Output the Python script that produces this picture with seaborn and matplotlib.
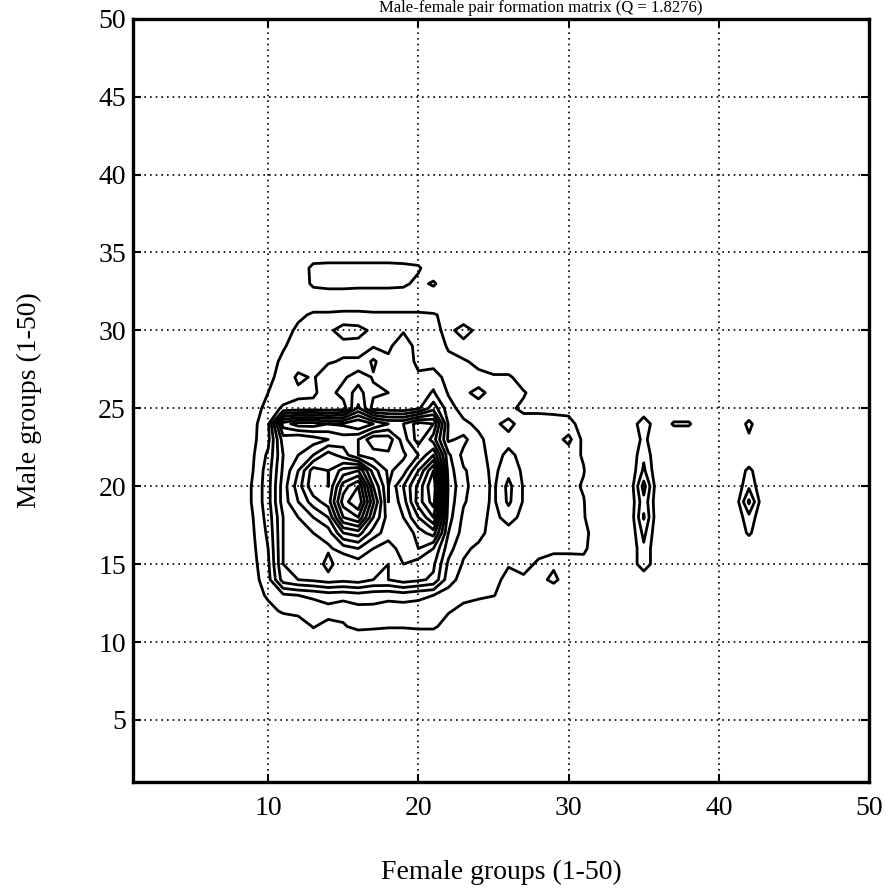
import numpy as np
import matplotlib
matplotlib.use("Agg")
import matplotlib.pyplot as plt
import seaborn as sns

# ---------------- data ----------------
female_groups = np.arange(1, 51)
male_groups = np.arange(1, 51)
title_text = "Male-female pair formation matrix (Q = 1.8276)"
x_label = "Female groups (1-50)"
y_label = "Male groups (1-50)"
x_ticks = [10, 20, 30, 40, 50]
y_ticks = [5, 10, 15, 20, 25, 30, 35, 40, 45, 50]
contour_levels = list(range(1, 16))

# main block: female groups 8..32 (columns), one list per male group (row)
block_female = list(range(8, 33))
male_34 = [0, 0, 0, 0, 0, 1.4, 1.5, 1.5, 1.5, 1.5, 1.5, 1.4, 1.2, 0, 0, 0, 0, 0, 0, 0, 0, 0, 0, 0, 0]
male_33 = [0, 0, 0, 0, 0, 1.3, 1.5, 1.5, 1.4, 1.4, 1.4, 1.3, 0.6, 1.2, 0, 0, 0, 0, 0, 0, 0, 0, 0, 0, 0]
male_32 = [0] * 25
male_31 = [0, 0, 0, 0, 0.7, 1.2, 1.2, 1.3, 1.3, 1.2, 1.2, 1.2, 1.2, 1.1, 0.7, 0, 0, 0, 0, 0, 0, 0, 0, 0, 0]
male_30 = [0, 0, 0, 0.4, 1.3, 1.6, 1.8, 2.4, 2.3, 1.8, 1.7, 1.9, 1.6, 1.4, 0.6, 1.6, 0.6, 0, 0, 0, 0, 0, 0, 0, 0]
male_29 = [0, 0, 0.3, 0.9, 1.4, 1.5, 1.6, 1.7, 1.7, 1.9, 1.8, 2.6, 1.6, 1.5, 0.9, 0.5, 0.4, 0, 0, 0, 0, 0, 0, 0, 0]
male_28 = [0, 0, 0.6, 1.2, 1.5, 1.7, 1.9, 2.1, 2.1, 3.2, 2.2, 2.7, 1.7, 1.5, 1.2, 1.1, 0.8, 0.5, 0, 0, 0, 0, 0, 0, 0]
male_27 = [0, 0, 0.8, 1.3, 2.2, 1.9, 2.6, 2.8, 3.6, 2.9, 2.4, 2.3, 2.2, 2.6, 1.5, 1.3, 1.2, 1.1, 1.2, 0.4, 0, 0, 0, 0, 0]
male_26 = [0, 0.3, 1.0, 1.3, 1.8, 1.8, 2.6, 3.4, 4.4, 3.2, 3.0, 2.6, 2.5, 3.1, 1.9, 1.7, 2.4, 1.5, 1.6, 1.1, 0.5, 0, 0, 0, 0]
male_25 = [0, 0.6, 1.3, 2.2, 2.3, 2.4, 2.3, 2.5, 5.2, 2.6, 2.4, 2.3, 2.8, 4.6, 2.4, 1.6, 1.4, 1.3, 1.2, 0.8, 0.8, 0.8, 0.7, 0, 0]
male_24 = [0, 0.7, 1.8, 7.5, 8.5, 8.5, 8.0, 8.2, 9.0, 8.0, 7.0, 7.0, 8.5, 8.0, 2.9, 2.2, 1.8, 1.7, 2.4, 1.4, 1.4, 1.3, 1.3, 0.6, 0]
male_23 = [0, 0.8, 1.7, 5.5, 5.0, 5.5, 6.0, 6.5, 6.0, 4.2, 4.4, 6.5, 8.5, 6.5, 2.8, 3.3, 2.2, 1.6, 1.6, 1.3, 1.4, 1.5, 2.3, 0.7, 0]
male_22 = [0, 0.9, 2.2, 5.0, 6.0, 7.0, 8.5, 7.5, 6.0, 5.5, 5.2, 5.8, 7.0, 9.0, 4.2, 2.7, 2.5, 1.5, 2.3, 1.6, 1.4, 1.6, 1.4, 0.9, 0]
male_21 = [0.2, 1.0, 2.5, 5.2, 7.0, 9.5, 9.0, 10.4, 11.0, 7.5, 5.8, 6.5, 9.0, 12.0, 4.5, 3.1, 2.6, 1.7, 2.7, 1.8, 1.5, 1.6, 1.3, 1.05, 0]
male_20 = [0.3, 1.1, 2.6, 5.5, 7.5, 9.8, 9.0, 12.5, 14.0, 9.0, 6.0, 8.0, 10.3, 13.0, 4.8, 3.2, 2.6, 1.8, 3.3, 1.9, 1.7, 1.5, 1.3, 0.9, 0]
male_19 = [0.3, 1.1, 2.6, 5.5, 7.0, 8.5, 9.5, 13.5, 15.0, 10.2, 6.0, 7.5, 10.5, 12.5, 4.6, 3.1, 2.5, 1.8, 3.2, 1.9, 1.6, 1.4, 1.2, 1.05, 0]
male_18 = [0.2, 1.0, 2.4, 5.0, 6.0, 7.0, 8.0, 12.0, 13.0, 9.0, 6.5, 7.0, 9.0, 11.0, 4.4, 2.8, 2.4, 1.7, 2.4, 1.7, 1.8, 1.5, 1.3, 1.1, 0]
male_17 = [0, 0.9, 2.2, 5.0, 5.5, 6.0, 6.5, 9.0, 9.5, 7.5, 6.5, 6.0, 7.5, 8.5, 4.0, 2.6, 2.3, 1.6, 1.6, 1.4, 1.5, 1.3, 1.4, 1.5, 0]
male_16 = [0, 0.8, 2.0, 5.0, 5.2, 5.5, 5.8, 6.5, 7.0, 6.0, 5.5, 6.5, 7.0, 6.0, 3.4, 2.2, 1.8, 1.5, 1.2, 1.3, 1.2, 1.1, 1.2, 1.3, 0]
male_15 = [0, 0.7, 1.8, 5.0, 5.5, 5.0, 6.5, 5.0, 5.5, 5.8, 5.0, 6.0, 5.5, 5.2, 2.8, 1.9, 1.6, 1.3, 1.05, 1.2, 0.9, 0.8, 0.6, 0.5, 0]
male_14 = [0, 0.6, 1.6, 4.5, 5.0, 5.2, 5.5, 5.3, 5.5, 5.0, 5.0, 5.5, 5.2, 4.8, 2.4, 1.6, 1.4, 1.2, 0.8, 0.9, 0.6, 1.3, 0.3, 0, 0]
male_13 = [0, 0.4, 1.2, 1.8, 2.0, 2.2, 2.5, 2.4, 2.6, 2.4, 2.3, 2.5, 2.2, 2.0, 1.6, 1.3, 1.2, 1.05, 0.5, 0.3, 0, 0, 0, 0, 0]
male_12 = [0, 0, 0.6, 1.2, 1.5, 1.4, 1.6, 1.3, 1.6, 1.7, 1.5, 1.4, 1.6, 1.3, 1.1, 0.7, 0.4, 0, 0, 0, 0, 0, 0, 0, 0]
male_11 = [0, 0, 0, 0, 0, 1.1, 0.5, 0.9, 1.3, 1.2, 1.1, 1.1, 1.2, 1.2, 0.5, 0, 0, 0, 0, 0, 0, 0, 0, 0, 0]

# isolated columns to the right
col35_male = [15, 16, 17, 18, 19, 20, 21, 22, 23, 24]
col35_vals = [1.8, 1.8, 2.3, 3.1, 2.7, 3.4, 2.2, 1.8, 1.3, 1.8]
col37_male = [24]
col37_vals = [1.15]
col38_male = [24]
col38_vals = [1.15]
col42_male = [17, 18, 19, 20, 21, 23, 24]
col42_vals = [1.2, 1.7, 3.2, 1.8, 1.3, 0.8, 1.3]

# ---------------- build matrix ----------------
block_rows = {34: male_34, 33: male_33, 32: male_32, 31: male_31, 30: male_30,
              29: male_29, 28: male_28, 27: male_27, 26: male_26, 25: male_25,
              24: male_24, 23: male_23, 22: male_22, 21: male_21, 20: male_20,
              19: male_19, 18: male_18, 17: male_17, 16: male_16, 15: male_15,
              14: male_14, 13: male_13, 12: male_12, 11: male_11}
Z = np.zeros((len(male_groups), len(female_groups)))
for m, vals in block_rows.items():
    for f, v in zip(block_female, vals):
        Z[m - 1, f - 1] = v
for fcol, ms, vs in [(35, col35_male, col35_vals), (37, col37_male, col37_vals),
                     (38, col38_male, col38_vals), (42, col42_male, col42_vals)]:
    for m, v in zip(ms, vs):
        Z[m - 1, fcol - 1] = v

# ---------------- plot ----------------
sns.set_theme(style="ticks")
plt.rcParams['font.family'] = ['Liberation Serif', 'DejaVu Serif']
plt.rcParams['text.color'] = 'black'
plt.rcParams['axes.labelcolor'] = 'black'
plt.rcParams['xtick.color'] = 'black'
plt.rcParams['ytick.color'] = 'black'

fig = plt.figure(figsize=(8.86, 8.93), dpi=100)
ax = fig.add_axes([0.150, 0.124, 0.831, 0.855])

ax.contour(female_groups, male_groups, Z, levels=contour_levels,
           colors='black', linewidths=2.0)

ax.set_xlim(1, 50)
ax.set_ylim(1, 50)
ax.set_xticks(x_ticks)
ax.set_yticks(y_ticks)
ax.grid(True, color='black', linestyle=(0, (1, 2.4)), linewidth=1.2)
ax.set_axisbelow(True)

for s in ax.spines.values():
    s.set_color('black')
    s.set_linewidth(2.4)
ax.tick_params(axis='both', direction='in', length=6, width=1.5,
               top=True, right=True, labelsize=20, colors='black')
ax.tick_params(axis='x', pad=10)
ax.tick_params(axis='y', pad=5)

ax.set_xlabel(x_label, fontsize=20, color='black')
ax.set_ylabel(y_label, fontsize=20, color='black')
ax.xaxis.set_label_coords(0.5, -0.101)
ax.yaxis.set_label_coords(-0.124, 0.5)

fig.text(0.61, 0.9995, title_text, ha='center', va='top', fontsize=12,
         color='black')

fig.savefig("out.png", dpi=100, facecolor='white')
